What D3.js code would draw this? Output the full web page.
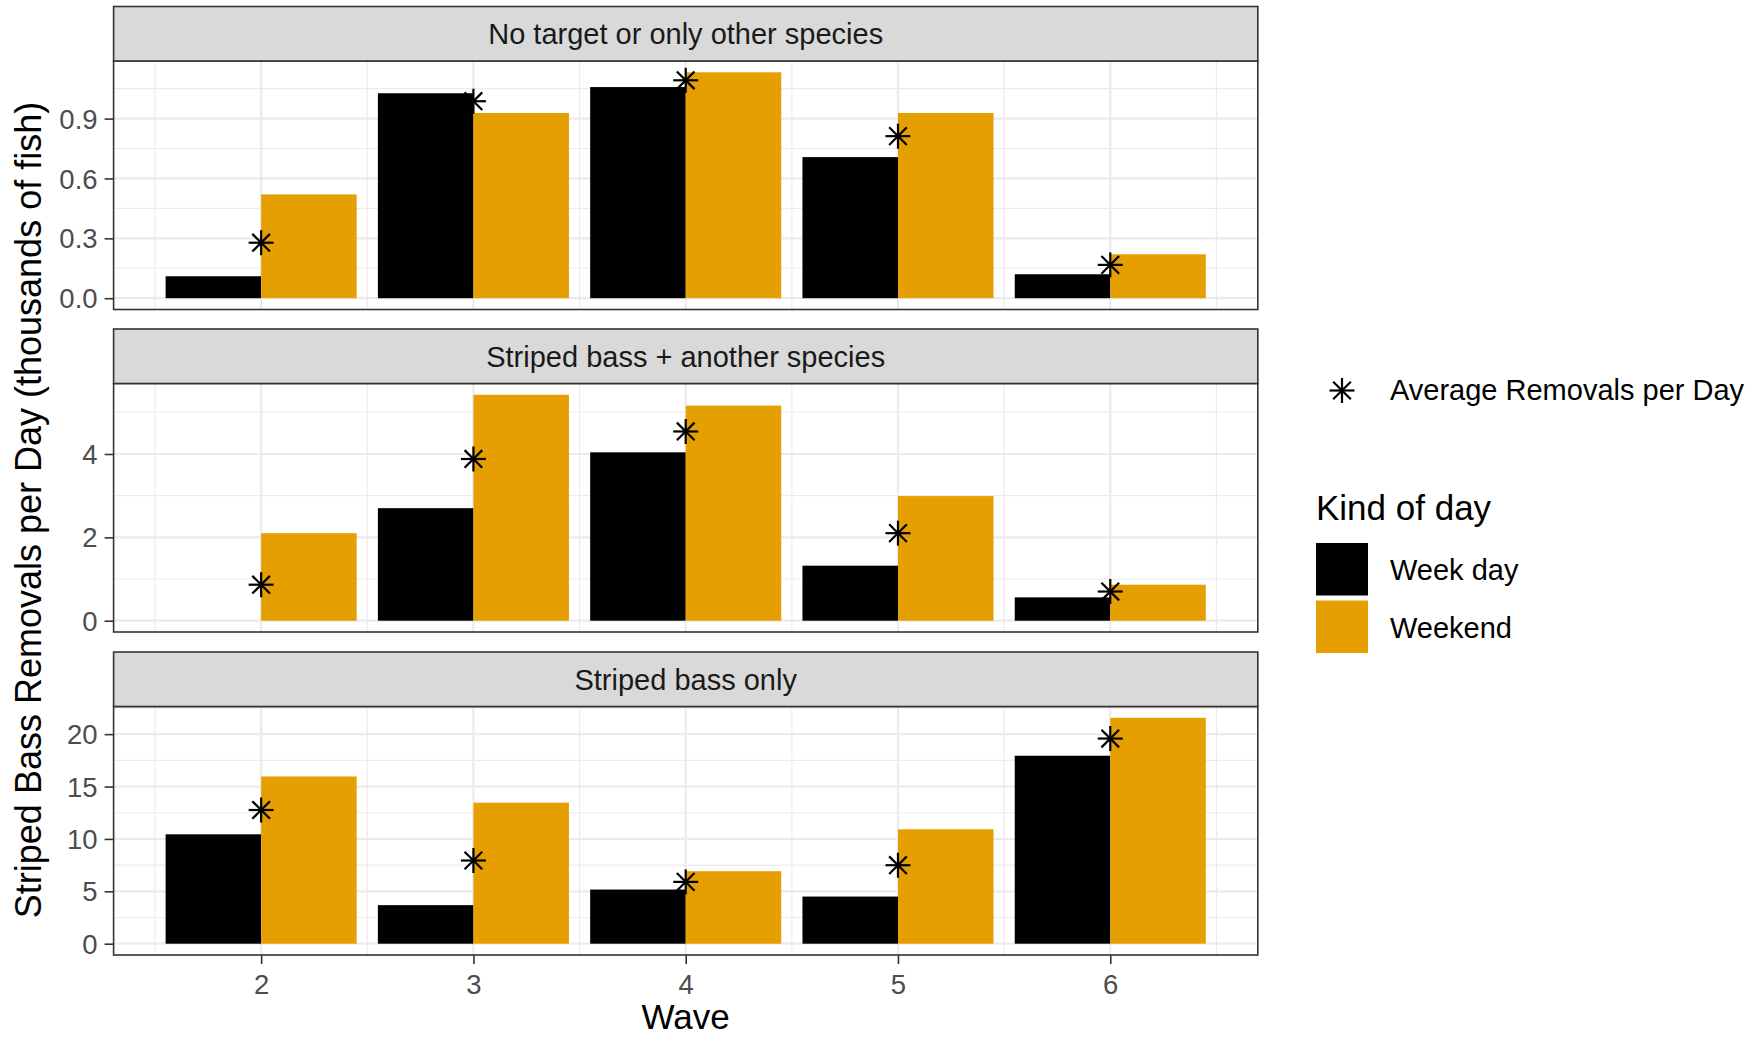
<!DOCTYPE html>
<html>
<head>
<meta charset="utf-8">
<script src="https://cdn.jsdelivr.net/npm/d3@7"></script>
<style>
  html, body { margin: 0; padding: 0; background: #fff; }
  svg { display: block; font-family: "Liberation Sans", Arial, Helvetica, sans-serif; }
</style>
</head>
<body>
<svg id="chart" width="1764" height="1038"></svg>
<script>
// ---------- data ----------
const waves = [2, 3, 4, 5, 6];
const panels = ["No target or only other species", "Striped bass + another species", "Striped bass only"];
const weekday = [
  [0.11, 1.027, 1.058, 0.707, 0.12],
  [null, 2.70, 4.04, 1.32, 0.56],
  [10.44, 3.68, 5.17, 4.5, 17.94]
];
const weekend = [
  [0.52, 0.928, 1.132, 0.928, 0.22],
  [2.10, 5.42, 5.16, 2.99, 0.864],
  [15.96, 13.46, 6.92, 10.92, 21.56]
];
const average = [
  [0.278, 0.987, 1.092, 0.812, 0.167],
  [0.864, 3.88, 4.54, 2.10, 0.70],
  [12.76, 7.94, 5.9, 7.49, 19.58]
];
const yTicks = [[0, 0.3, 0.6, 0.9], [0, 2, 4], [0, 5, 10, 15, 20]];
const yTickLabels = [["0.0", "0.3", "0.6", "0.9"], ["0", "2", "4"], ["0", "5", "10", "15", "20"]];
const xTickLabels = ["2", "3", "4", "5", "6"];
const kinds = ["Week day", "Weekend"];
const kindColors = ["#000000", "#E69F00"];

// ---------- layout ----------
const svg = d3.select("#chart");
const left = 113.6, right = 1257.8;
const plotTops = [61, 383.5, 706.5];
const plotH = 248.5, stripH = 54.5;
const barW = 0.9;

const x = d3.scaleLinear().domain([1.305, 6.695]).range([left, right]);
const xMinor = [1.5, 2.5, 3.5, 4.5, 5.5, 6.5];

const starArm = 12.5;
function drawStar(g, cx, cy) {
  const a = starArm, d = starArm / Math.SQRT2;
  const segs = [[-a, 0, a, 0], [0, -a, 0, a], [-d, -d, d, d], [-d, d, d, -d]];
  segs.forEach(s => g.append("line")
    .attr("x1", cx + s[0]).attr("y1", cy + s[1]).attr("x2", cx + s[2]).attr("y2", cy + s[3])
    .attr("stroke", "#000").attr("stroke-width", 2.2).attr("stroke-linecap", "butt"));
}

panels.forEach((name, p) => {
  const top = plotTops[p], bottom = top + plotH;
  const all = weekday[p].concat(weekend[p], average[p]).filter(v => v != null);
  const M = d3.max(all);
  const y = d3.scaleLinear().domain([-0.05 * M, 1.05 * M]).range([bottom, top]);
  const g = svg.append("g");

  g.append("rect").attr("x", left).attr("y", top).attr("width", right - left).attr("height", plotH).attr("fill", "#fff");

  // minor gridlines
  const t = yTicks[p];
  const step = t[1] - t[0];
  const yMinor = [];
  for (let i = -1; i < t.length; i++) {
    const v = t[0] + step * (i + 0.5);
    if (v > y.domain()[0] && v < y.domain()[1]) yMinor.push(v);
  }
  g.selectAll(".ymin").data(yMinor).enter().append("line")
    .attr("x1", left).attr("x2", right).attr("y1", d => y(d)).attr("y2", d => y(d))
    .attr("stroke", "#EBEBEB").attr("stroke-width", 1.1);
  g.selectAll(".xmin").data(xMinor).enter().append("line")
    .attr("y1", top).attr("y2", bottom).attr("x1", d => x(d)).attr("x2", d => x(d))
    .attr("stroke", "#EBEBEB").attr("stroke-width", 1.1);
  // major gridlines
  g.selectAll(".ymaj").data(t).enter().append("line")
    .attr("x1", left).attr("x2", right).attr("y1", d => y(d)).attr("y2", d => y(d))
    .attr("stroke", "#EBEBEB").attr("stroke-width", 2.2);
  g.selectAll(".xmaj").data(waves).enter().append("line")
    .attr("y1", top).attr("y2", bottom).attr("x1", d => x(d)).attr("x2", d => x(d))
    .attr("stroke", "#EBEBEB").attr("stroke-width", 2.2);

  // bars
  [weekday[p], weekend[p]].forEach((vals, k) => {
    const data = waves.map((w, i) => ({ w, v: vals[i] })).filter(d => d.v != null);
    g.selectAll(".bar" + k).data(data).enter().append("rect")
      .attr("x", d => x(d.w - barW / 2 + k * barW / 2))
      .attr("width", d => x(d.w + barW / 2) - x(d.w))
      .attr("y", d => y(d.v))
      .attr("height", d => y(0) - y(d.v))
      .attr("fill", kindColors[k]);
  });

  // average stars
  waves.forEach((w, i) => { if (average[p][i] != null) drawStar(g, x(w), y(average[p][i])); });

  // panel border
  g.append("rect").attr("x", left).attr("y", top).attr("width", right - left).attr("height", plotH)
    .attr("fill", "none").attr("stroke", "#333333").attr("stroke-width", 1.6);

  // strip
  g.append("rect").attr("x", left).attr("y", top - stripH).attr("width", right - left).attr("height", stripH)
    .attr("fill", "#D9D9D9").attr("stroke", "#333333").attr("stroke-width", 1.6);
  g.append("text").attr("x", (left + right) / 2).attr("y", top - stripH + 37.5)
    .attr("text-anchor", "middle").attr("font-size", 29).attr("fill", "#1A1A1A").text(name);

  // y axis
  const yAxis = d3.axisLeft(y).tickValues(t).tickFormat((d, i) => yTickLabels[p][i]).tickSize(9).tickPadding(7);
  const ya = g.append("g").attr("transform", `translate(${left},0)`).call(yAxis);
  ya.select(".domain").remove();
  ya.selectAll(".tick line").attr("stroke", "#333333").attr("stroke-width", 1.6);
  ya.selectAll(".tick text").attr("font-size", 27.5).attr("fill", "#4D4D4D")
    .attr("font-family", "Liberation Sans, Arial, sans-serif").attr("dy", "0.35em");

  if (p === panels.length - 1) {
    const xAxis = d3.axisBottom(x).tickValues(waves).tickFormat((d, i) => xTickLabels[i]).tickSize(9).tickPadding(7);
    const xa = g.append("g").attr("transform", `translate(0,${bottom})`).call(xAxis);
    xa.select(".domain").remove();
    xa.selectAll(".tick line").attr("stroke", "#333333").attr("stroke-width", 1.6);
    xa.selectAll(".tick text").attr("font-size", 27.5).attr("fill", "#4D4D4D")
      .attr("font-family", "Liberation Sans, Arial, sans-serif").attr("dy", null).attr("y", 39);
  }
});

// axis titles
svg.append("text").attr("x", (left + right) / 2).attr("y", 1029).attr("text-anchor", "middle")
  .attr("font-size", 35).attr("fill", "#000").text("Wave");
svg.append("text").attr("transform", "translate(41,510) rotate(-90)").attr("text-anchor", "middle")
  .attr("font-size", 36).attr("fill", "#000").text("Striped Bass Removals per Day (thousands of fish)");

// legend: average star
const lg = svg.append("g");
drawStar(lg, 1342, 390.5);
lg.append("text").attr("x", 1390).attr("y", 400).attr("font-size", 29).attr("fill", "#000").text("Average Removals per Day");

// legend: kind of day
lg.append("text").attr("x", 1316).attr("y", 520).attr("font-size", 35).attr("fill", "#000").text("Kind of day");
const keyTops = [543, 600.5];
kinds.forEach((k, i) => {
  lg.append("rect").attr("x", 1316).attr("y", keyTops[i]).attr("width", 52).attr("height", 52.5).attr("fill", kindColors[i]);
  lg.append("text").attr("x", 1390).attr("y", keyTops[i] + 37).attr("font-size", 29).attr("fill", "#000").text(k);
});
</script>
</body>
</html>
